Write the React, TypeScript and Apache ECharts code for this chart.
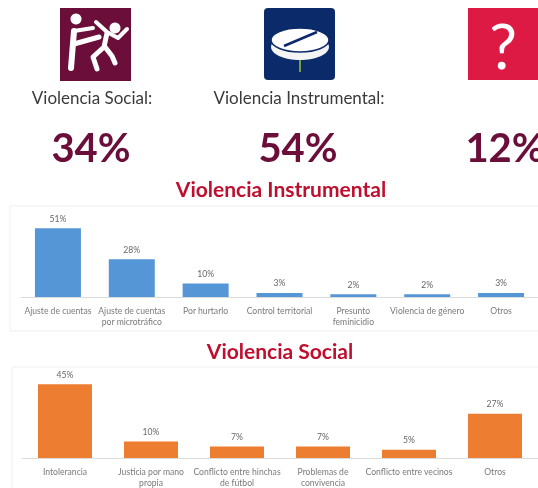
import React, { useEffect, useRef } from "react";
import * as echarts from "echarts";

const instrumentalCategories = ["Ajuste de cuentas", "Ajuste de cuentas\npor microtráfico", "Por hurtarlo", "Control territorial", "Presunto\nfeminicidio", "Violencia de género", "Otros"];
const instrumentalValues = [51, 28, 10, 3, 2, 2, 3];
const socialCategories = ["Intolerancia", "Justicia por mano\npropia", "Conflicto entre hinchas\nde fútbol", "Problemas de\nconvivencia", "Conflicto entre vecinos", "Otros"];
const socialValues = [45, 10, 7, 7, 5, 27];
const headlineLabels = ["Violencia Social:", "Violencia Instrumental:"];
const headlineValues = ["34%", "54%", "12%"];
const chartTitles = ["Violencia Instrumental", "Violencia Social"];

const FONT = "Lato, 'Open Sans', sans-serif";
const WINE = "#6b0f3a";
const TITLE = "#c00f2e";

const white = { stroke: "#fff", fill: "none", lineWidth: 5, lineCap: "round", lineJoin: "round" };
const line = (points: number[][], lineWidth = 5) => ({
  type: "polyline", shape: { points }, style: { ...white, lineWidth },
});

function App() {
  const ref = useRef<HTMLDivElement>(null);
  useEffect(() => {
    const chart = echarts.init(ref.current!, undefined, { renderer: "svg" });
    const axisBits = {
      type: "category" as const,
      axisTick: { show: false },
      axisLine: { lineStyle: { color: "#dcdcdc", width: 1 } },
      axisLabel: { interval: 0, color: "#7a7a7a", fontSize: 8.6, fontFamily: FONT, lineHeight: 11, margin: 8 },
    };
    const labelBits = { show: true, position: "top" as const, formatter: "{c}%", color: "#666", fontSize: 8.6, fontFamily: FONT, distance: 5 };
    const hidden = { show: false };
    chart.setOption({
      animation: false,
      backgroundColor: "#fff",
      grid: [
        { left: 21, top: 216, width: 518, height: 81 },
        { left: 22, top: 376, width: 516, height: 82 },
      ],
      xAxis: [
        { ...axisBits, gridIndex: 0, data: instrumentalCategories },
        { ...axisBits, gridIndex: 1, data: socialCategories },
      ],
      yAxis: [
        { type: "value", gridIndex: 0, min: 0, max: 60, axisLabel: hidden, axisLine: hidden, axisTick: hidden, splitLine: hidden },
        { type: "value", gridIndex: 1, min: 0, max: 50, axisLabel: hidden, axisLine: hidden, axisTick: hidden, splitLine: hidden },
      ],
      series: [
        { type: "bar", xAxisIndex: 0, yAxisIndex: 0, data: instrumentalValues, barWidth: 46, itemStyle: { color: "#5596d6" }, label: labelBits },
        { type: "bar", xAxisIndex: 1, yAxisIndex: 1, data: socialValues, barWidth: 54, itemStyle: { color: "#ed7d31" }, label: labelBits },
      ],
      graphic: [
        // panel frames
        { type: "rect", z: -1, shape: { x: 10, y: 206, width: 540, height: 125 }, style: { fill: "none", stroke: "#efefef", lineWidth: 1 } },
        { type: "rect", z: -1, shape: { x: 12, y: 367, width: 540, height: 140 }, style: { fill: "none", stroke: "#efefef", lineWidth: 1 } },
        // social icon
        { type: "rect", shape: { x: 60, y: 8, width: 71, height: 73 }, style: { fill: WINE } },
        { type: "circle", shape: { cx: 76, cy: 19, r: 5.5 }, style: { fill: "#fff" } },
        line([[74, 31], [71, 68]], 6),
        line([[74, 31], [93, 28]], 4),
        line([[74, 44], [99, 37]], 5),
        { type: "circle", shape: { cx: 115, cy: 28, r: 5.5 }, style: { fill: "#fff" } },
        line([[96, 22], [107, 32], [118, 38], [127, 29]], 4),
        line([[107, 33], [104, 47], [93, 57], [97, 69]], 5),
        line([[105, 47], [112, 56], [115, 63]], 5),
        // pill icon
        { type: "rect", shape: { x: 264, y: 8, width: 71, height: 72, r: 4 }, style: { fill: "#0a2a6a" } },
        { type: "ellipse", shape: { cx: 300, cy: 47, rx: 29, ry: 13 }, style: { fill: "#f4f4f4" } },
        { type: "ellipse", shape: { cx: 300, cy: 40, rx: 29, ry: 12 }, style: { fill: "#fff", stroke: "#0a2a6a", lineWidth: 1.5 } },
        { type: "line", shape: { x1: 284, y1: 46, x2: 317, y2: 32 }, style: { stroke: "#0a2a6a", lineWidth: 2.5 } },
        { type: "line", shape: { x1: 300, y1: 60, x2: 300, y2: 72 }, style: { stroke: "#9bc53d", lineWidth: 1.5 } },
        // question icon
        { type: "rect", shape: { x: 468, y: 8, width: 71, height: 72 }, style: { fill: "#dc1a44" } },
        { type: "text", x: 503, y: 45, style: { text: "?", fill: "#fff", font: "400 62px " + FONT, align: "center", verticalAlign: "middle" } },
        // headline labels
        { type: "text", x: 92, y: 97, style: { text: headlineLabels[0], fill: "#3a3a3a", font: "400 17px " + FONT, align: "center", verticalAlign: "middle" } },
        { type: "text", x: 299, y: 97, style: { text: headlineLabels[1], fill: "#3a3a3a", font: "400 17px " + FONT, align: "center", verticalAlign: "middle" } },
        // headline values
        { type: "text", x: 91, y: 147, style: { text: headlineValues[0], fill: WINE, font: "700 40px " + FONT, align: "center", verticalAlign: "middle" } },
        { type: "text", x: 298, y: 147, style: { text: headlineValues[1], fill: WINE, font: "700 40px " + FONT, align: "center", verticalAlign: "middle" } },
        { type: "text", x: 505, y: 147, style: { text: headlineValues[2], fill: WINE, font: "700 40px " + FONT, align: "center", verticalAlign: "middle" } },
        // chart titles
        { type: "text", x: 281, y: 188, style: { text: chartTitles[0], fill: TITLE, font: "700 21px " + FONT, align: "center", verticalAlign: "middle" } },
        { type: "text", x: 280, y: 350, style: { text: chartTitles[1], fill: TITLE, font: "700 21px " + FONT, align: "center", verticalAlign: "middle" } },
      ],
    });
    return () => chart.dispose();
  }, []);
  return <div ref={ref} style={{ position: "absolute", left: 0, top: 0, width: 538, height: 488, filter: "blur(0.4px)" }} />;
}

export default App;
